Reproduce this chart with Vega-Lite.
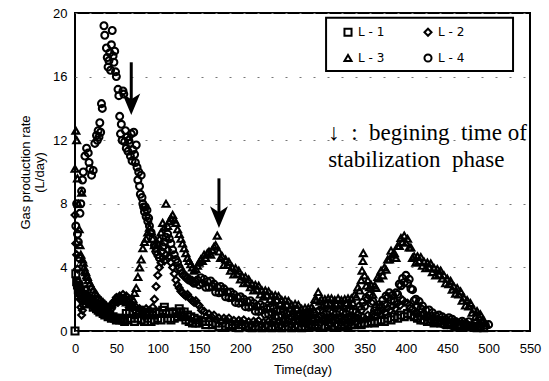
{
  "$schema": "https://vega.github.io/schema/vega-lite/v6.json",
  "autosize": "none",
  "width": 455,
  "height": 318,
  "padding": {"left": 75, "top": 13, "right": 19, "bottom": 50},
  "config": {
    "view": {"stroke": "black", "strokeWidth": 2},
    "font": "Liberation Sans",
    "axis": {"labelFont": "Liberation Sans", "labelFontSize": 13, "labelColor": "black", "titleFont": "Liberation Sans", "titleFontSize": 13, "titleFontWeight": "normal", "titleColor": "black", "domain": false, "ticks": false, "labelFlush": false, "labelOverlap": false}
  },
  "layer": [
    {
      "data": {"values": [{"x1": 303.5, "x2": 529.5, "y1": 16.35, "y2": 19.7}]},
      "mark": {"type": "rect", "fill": "white", "stroke": "black", "strokeWidth": 2},
      "encoding": {"x": {"field": "x1", "type": "quantitative"}, "x2": {"field": "x2"}, "y": {"field": "y1", "type": "quantitative"}, "y2": {"field": "y2"}}
    },
    {
      "data": {"values": [
        {"s":"L-1","t":0,"v":0},{"s":"L-1","t":1,"v":3.6},{"s":"L-1","t":2,"v":3.1},{"s":"L-1","t":3,"v":2.9},{"s":"L-1","t":4,"v":2.6},{"s":"L-1","t":5,"v":2.8},{"s":"L-1","t":6,"v":2.4},{"s":"L-1","t":7,"v":2.6},{"s":"L-1","t":8,"v":2.2},{"s":"L-1","t":9,"v":2.3},{"s":"L-1","t":10,"v":2.0},{"s":"L-1","t":12,"v":2.2},{"s":"L-1","t":14,"v":1.9},{"s":"L-1","t":16,"v":2.0},{"s":"L-1","t":18,"v":1.7},{"s":"L-1","t":20,"v":1.8},{"s":"L-1","t":22,"v":1.5},{"s":"L-1","t":24,"v":1.6},{"s":"L-1","t":26,"v":1.4},{"s":"L-1","t":28,"v":1.3},{"s":"L-1","t":30,"v":1.2},{"s":"L-1","t":32,"v":1.3},{"s":"L-1","t":34,"v":1.1},{"s":"L-1","t":36,"v":1.0},{"s":"L-1","t":38,"v":1.1},{"s":"L-1","t":40,"v":0.9},{"s":"L-1","t":42,"v":1.0},{"s":"L-1","t":44,"v":0.8},{"s":"L-1","t":46,"v":0.9},{"s":"L-1","t":48,"v":0.8},{"s":"L-1","t":50,"v":0.7},{"s":"L-1","t":52,"v":0.8},{"s":"L-1","t":54,"v":0.7},{"s":"L-1","t":56,"v":0.8},{"s":"L-1","t":58,"v":0.7},{"s":"L-1","t":60,"v":0.6},{"s":"L-1","t":62,"v":1.1},{"s":"L-1","t":64,"v":0.7},{"s":"L-1","t":66,"v":1.2},{"s":"L-1","t":68,"v":0.8},{"s":"L-1","t":70,"v":1.1},{"s":"L-1","t":72,"v":0.6},{"s":"L-1","t":74,"v":1.2},{"s":"L-1","t":76,"v":0.8},{"s":"L-1","t":78,"v":1.3},{"s":"L-1","t":80,"v":0.7},{"s":"L-1","t":82,"v":1.1},{"s":"L-1","t":84,"v":0.6},{"s":"L-1","t":86,"v":1.2},{"s":"L-1","t":88,"v":0.8},{"s":"L-1","t":90,"v":1.1},{"s":"L-1","t":92,"v":0.6},{"s":"L-1","t":94,"v":1.0},{"s":"L-1","t":96,"v":0.7},{"s":"L-1","t":98,"v":1.2},{"s":"L-1","t":100,"v":0.8},{"s":"L-1","t":102,"v":1.1},{"s":"L-1","t":104,"v":0.7},{"s":"L-1","t":106,"v":1.3},{"s":"L-1","t":108,"v":1.5},{"s":"L-1","t":110,"v":1.1},{"s":"L-1","t":112,"v":0.8},{"s":"L-1","t":114,"v":1.2},{"s":"L-1","t":116,"v":0.7},{"s":"L-1","t":118,"v":1.1},{"s":"L-1","t":120,"v":0.8},{"s":"L-1","t":122,"v":1.2},{"s":"L-1","t":124,"v":0.9},{"s":"L-1","t":126,"v":1.4},{"s":"L-1","t":128,"v":1.2},{"s":"L-1","t":130,"v":0.9},{"s":"L-1","t":132,"v":1.2},{"s":"L-1","t":134,"v":0.7},{"s":"L-1","t":136,"v":1.0},{"s":"L-1","t":138,"v":0.6},{"s":"L-1","t":140,"v":0.9},{"s":"L-1","t":142,"v":0.5},{"s":"L-1","t":144,"v":0.8},{"s":"L-1","t":146,"v":0.5},{"s":"L-1","t":148,"v":0.7},{"s":"L-1","t":150,"v":0.5},{"s":"L-1","t":154,"v":0.6},{"s":"L-1","t":158,"v":0.4},{"s":"L-1","t":162,"v":0.6},{"s":"L-1","t":166,"v":0.4},{"s":"L-1","t":170,"v":0.5},{"s":"L-1","t":174,"v":0.3},{"s":"L-1","t":178,"v":0.5},{"s":"L-1","t":182,"v":0.3},{"s":"L-1","t":186,"v":0.4},{"s":"L-1","t":190,"v":0.3},{"s":"L-1","t":194,"v":0.4},{"s":"L-1","t":198,"v":0.2},{"s":"L-1","t":202,"v":0.4},{"s":"L-1","t":206,"v":0.3},{"s":"L-1","t":210,"v":0.3},{"s":"L-1","t":214,"v":0.2},{"s":"L-1","t":218,"v":0.3},{"s":"L-1","t":222,"v":0.3},{"s":"L-1","t":226,"v":0.2},{"s":"L-1","t":230,"v":0.3},{"s":"L-1","t":234,"v":0.3},{"s":"L-1","t":238,"v":0.2},{"s":"L-1","t":242,"v":0.3},{"s":"L-1","t":246,"v":0.3},{"s":"L-1","t":250,"v":0.2},{"s":"L-1","t":254,"v":0.3},{"s":"L-1","t":258,"v":0.3},{"s":"L-1","t":262,"v":0.2},{"s":"L-1","t":266,"v":0.3},{"s":"L-1","t":270,"v":0.3},{"s":"L-1","t":274,"v":0.2},{"s":"L-1","t":278,"v":0.3},{"s":"L-1","t":282,"v":0.3},{"s":"L-1","t":286,"v":0.4},{"s":"L-1","t":290,"v":0.3},{"s":"L-1","t":294,"v":0.4},{"s":"L-1","t":298,"v":0.3},{"s":"L-1","t":302,"v":0.3},{"s":"L-1","t":306,"v":0.4},{"s":"L-1","t":310,"v":0.3},{"s":"L-1","t":314,"v":0.3},{"s":"L-1","t":318,"v":0.4},{"s":"L-1","t":322,"v":0.3},{"s":"L-1","t":326,"v":0.4},{"s":"L-1","t":330,"v":0.3},{"s":"L-1","t":334,"v":0.4},{"s":"L-1","t":338,"v":0.4},{"s":"L-1","t":342,"v":0.5},{"s":"L-1","t":346,"v":0.4},{"s":"L-1","t":350,"v":0.5},{"s":"L-1","t":354,"v":0.5},{"s":"L-1","t":358,"v":0.6},{"s":"L-1","t":362,"v":0.5},{"s":"L-1","t":366,"v":0.6},{"s":"L-1","t":370,"v":0.7},{"s":"L-1","t":374,"v":0.6},{"s":"L-1","t":378,"v":0.8},{"s":"L-1","t":382,"v":0.7},{"s":"L-1","t":386,"v":0.9},{"s":"L-1","t":390,"v":0.8},{"s":"L-1","t":394,"v":1.0},{"s":"L-1","t":398,"v":0.9},{"s":"L-1","t":402,"v":1.1},{"s":"L-1","t":406,"v":1.0},{"s":"L-1","t":410,"v":0.9},{"s":"L-1","t":414,"v":0.8},{"s":"L-1","t":418,"v":0.7},{"s":"L-1","t":422,"v":0.7},{"s":"L-1","t":426,"v":0.6},{"s":"L-1","t":430,"v":0.6},{"s":"L-1","t":434,"v":0.5},{"s":"L-1","t":438,"v":0.6},{"s":"L-1","t":442,"v":0.5},{"s":"L-1","t":446,"v":0.5},{"s":"L-1","t":450,"v":0.4},{"s":"L-1","t":454,"v":0.5},{"s":"L-1","t":458,"v":0.4},{"s":"L-1","t":462,"v":0.4},{"s":"L-1","t":466,"v":0.3},{"s":"L-1","t":470,"v":0.4},{"s":"L-1","t":474,"v":0.3},{"s":"L-1","t":478,"v":0.3},{"s":"L-1","t":482,"v":0.3},{"s":"L-1","t":486,"v":0.2},{"s":"L-1","t":490,"v":0.3},{"s":"L-1","t":494,"v":0.2},
        {"s":"L-2","t":0,"v":7.3},{"s":"L-2","t":1,"v":5.5},{"s":"L-2","t":2,"v":4.8},{"s":"L-2","t":3,"v":3.9},{"s":"L-2","t":4,"v":3.1},{"s":"L-2","t":5,"v":2.5},{"s":"L-2","t":6,"v":2.0},{"s":"L-2","t":7,"v":1.5},{"s":"L-2","t":8,"v":1.0},{"s":"L-2","t":9,"v":1.3},{"s":"L-2","t":10,"v":1.6},{"s":"L-2","t":11,"v":2.0},{"s":"L-2","t":12,"v":2.3},{"s":"L-2","t":13,"v":2.6},{"s":"L-2","t":14,"v":2.3},{"s":"L-2","t":15,"v":2.0},{"s":"L-2","t":16,"v":2.2},{"s":"L-2","t":17,"v":1.8},{"s":"L-2","t":18,"v":2.0},{"s":"L-2","t":19,"v":1.7},{"s":"L-2","t":20,"v":1.9},{"s":"L-2","t":22,"v":1.6},{"s":"L-2","t":24,"v":1.8},{"s":"L-2","t":26,"v":1.5},{"s":"L-2","t":28,"v":1.4},{"s":"L-2","t":30,"v":1.6},{"s":"L-2","t":32,"v":1.3},{"s":"L-2","t":34,"v":1.2},{"s":"L-2","t":36,"v":1.4},{"s":"L-2","t":38,"v":1.1},{"s":"L-2","t":40,"v":1.3},{"s":"L-2","t":42,"v":1.5},{"s":"L-2","t":44,"v":1.4},{"s":"L-2","t":46,"v":1.7},{"s":"L-2","t":48,"v":1.9},{"s":"L-2","t":50,"v":2.1},{"s":"L-2","t":52,"v":1.8},{"s":"L-2","t":54,"v":2.2},{"s":"L-2","t":56,"v":2.0},{"s":"L-2","t":58,"v":2.3},{"s":"L-2","t":60,"v":2.1},{"s":"L-2","t":62,"v":2.2},{"s":"L-2","t":64,"v":1.9},{"s":"L-2","t":66,"v":2.0},{"s":"L-2","t":68,"v":1.7},{"s":"L-2","t":70,"v":1.5},{"s":"L-2","t":72,"v":1.3},{"s":"L-2","t":74,"v":1.5},{"s":"L-2","t":76,"v":1.1},{"s":"L-2","t":78,"v":1.4},{"s":"L-2","t":80,"v":1.0},{"s":"L-2","t":82,"v":1.3},{"s":"L-2","t":84,"v":0.9},{"s":"L-2","t":86,"v":1.4},{"s":"L-2","t":88,"v":1.0},{"s":"L-2","t":90,"v":1.3},{"s":"L-2","t":92,"v":1.2},{"s":"L-2","t":94,"v":1.5},{"s":"L-2","t":96,"v":2.0},{"s":"L-2","t":98,"v":2.8},{"s":"L-2","t":100,"v":3.5},{"s":"L-2","t":102,"v":4.0},{"s":"L-2","t":104,"v":4.3},{"s":"L-2","t":106,"v":4.6},{"s":"L-2","t":108,"v":4.4},{"s":"L-2","t":110,"v":4.8},{"s":"L-2","t":112,"v":5.1},{"s":"L-2","t":114,"v":4.7},{"s":"L-2","t":116,"v":4.3},{"s":"L-2","t":118,"v":4.0},{"s":"L-2","t":120,"v":3.6},{"s":"L-2","t":122,"v":3.2},{"s":"L-2","t":124,"v":2.9},{"s":"L-2","t":126,"v":2.7},{"s":"L-2","t":128,"v":2.5},{"s":"L-2","t":130,"v":2.4},{"s":"L-2","t":132,"v":2.3},{"s":"L-2","t":134,"v":2.2},{"s":"L-2","t":136,"v":2.3},{"s":"L-2","t":138,"v":2.1},{"s":"L-2","t":140,"v":2.0},{"s":"L-2","t":142,"v":1.9},{"s":"L-2","t":144,"v":1.8},{"s":"L-2","t":146,"v":1.9},{"s":"L-2","t":148,"v":1.7},
        {"s":"L-2","t":150,"v":1.6},{"s":"L-2","t":153,"v":1.3},{"s":"L-2","t":156,"v":1.25},{"s":"L-2","t":159,"v":0.9},{"s":"L-2","t":162,"v":1.07},{"s":"L-2","t":165,"v":0.9},{"s":"L-2","t":168,"v":1.0},{"s":"L-2","t":171,"v":0.7},{"s":"L-2","t":174,"v":0.82},{"s":"L-2","t":177,"v":0.59},{"s":"L-2","t":180,"v":0.8},{"s":"L-2","t":183,"v":0.68},{"s":"L-2","t":186,"v":0.81},{"s":"L-2","t":189,"v":0.54},{"s":"L-2","t":192,"v":0.67},{"s":"L-2","t":195,"v":0.45},{"s":"L-2","t":198,"v":0.67},{"s":"L-2","t":201,"v":0.55},{"s":"L-2","t":204,"v":0.7},{"s":"L-2","t":207,"v":0.44},{"s":"L-2","t":210,"v":0.58},{"s":"L-2","t":213,"v":0.37},{"s":"L-2","t":216,"v":0.61},{"s":"L-2","t":219,"v":0.5},{"s":"L-2","t":222,"v":0.65},{"s":"L-2","t":225,"v":0.4},{"s":"L-2","t":228,"v":0.55},{"s":"L-2","t":231,"v":0.35},{"s":"L-2","t":234,"v":0.6},{"s":"L-2","t":237,"v":0.5},{"s":"L-2","t":240,"v":0.65},{"s":"L-2","t":243,"v":0.4},{"s":"L-2","t":246,"v":0.55},{"s":"L-2","t":249,"v":0.35},{"s":"L-2","t":252,"v":0.6},{"s":"L-2","t":255,"v":0.5},{"s":"L-2","t":258,"v":0.65},{"s":"L-2","t":261,"v":0.4},{"s":"L-2","t":264,"v":0.55},{"s":"L-2","t":267,"v":0.35},{"s":"L-2","t":270,"v":0.6},{"s":"L-2","t":273,"v":0.5},{"s":"L-2","t":276,"v":0.65},{"s":"L-2","t":279,"v":0.4},{"s":"L-2","t":282,"v":0.55},{"s":"L-2","t":285,"v":0.4},{"s":"L-2","t":288,"v":0.65},{"s":"L-2","t":291,"v":0.55},{"s":"L-2","t":294,"v":0.75},{"s":"L-2","t":297,"v":0.5},{"s":"L-2","t":300,"v":0.7},{"s":"L-2","t":303,"v":0.55},{"s":"L-2","t":306,"v":0.7},{"s":"L-2","t":309,"v":0.45},{"s":"L-2","t":312,"v":0.6},{"s":"L-2","t":315,"v":0.4},{"s":"L-2","t":318,"v":0.65},{"s":"L-2","t":321,"v":0.5},{"s":"L-2","t":324,"v":0.65},{"s":"L-2","t":327,"v":0.45},{"s":"L-2","t":330,"v":0.6},{"s":"L-2","t":333,"v":0.5},{"s":"L-2","t":336,"v":0.7},{"s":"L-2","t":339,"v":0.55},{"s":"L-2","t":342,"v":0.8},{"s":"L-2","t":345,"v":0.65},{"s":"L-2","t":348,"v":0.9},{"s":"L-2","t":351,"v":0.75},{"s":"L-2","t":354,"v":1.0},{"s":"L-2","t":357,"v":0.8},{"s":"L-2","t":360,"v":1.05},{"s":"L-2","t":363,"v":0.95},{"s":"L-2","t":366,"v":1.2},{"s":"L-2","t":369,"v":1.0},{"s":"L-2","t":372,"v":1.3},{"s":"L-2","t":375,"v":1.15},{"s":"L-2","t":378,"v":1.45},{"s":"L-2","t":381,"v":1.3},{"s":"L-2","t":384,"v":1.55},{"s":"L-2","t":387,"v":1.4},{"s":"L-2","t":390,"v":1.75},{"s":"L-2","t":393,"v":1.6},{"s":"L-2","t":396,"v":1.95},{"s":"L-2","t":399,"v":1.8},{"s":"L-2","t":402,"v":1.75},{"s":"L-2","t":405,"v":1.45},{"s":"L-2","t":408,"v":1.4},{"s":"L-2","t":411,"v":1.1},{"s":"L-2","t":414,"v":1.15},{"s":"L-2","t":417,"v":0.9},{"s":"L-2","t":420,"v":1.0},{"s":"L-2","t":423,"v":0.85},{"s":"L-2","t":426,"v":0.9},{"s":"L-2","t":429,"v":0.7},{"s":"L-2","t":432,"v":0.8},{"s":"L-2","t":435,"v":0.65},{"s":"L-2","t":438,"v":0.75},{"s":"L-2","t":441,"v":0.55},{"s":"L-2","t":444,"v":0.7},{"s":"L-2","t":447,"v":0.55},{"s":"L-2","t":450,"v":0.6},{"s":"L-2","t":453,"v":0.45},{"s":"L-2","t":456,"v":0.6},{"s":"L-2","t":459,"v":0.45},{"s":"L-2","t":462,"v":0.5},{"s":"L-2","t":465,"v":0.35},{"s":"L-2","t":468,"v":0.5},{"s":"L-2","t":471,"v":0.35},{"s":"L-2","t":474,"v":0.45},{"s":"L-2","t":477,"v":0.3},{"s":"L-2","t":480,"v":0.4},{"s":"L-2","t":483,"v":0.3},{"s":"L-2","t":486,"v":0.35},{"s":"L-2","t":489,"v":0.25},
        {"s":"L-3","t":0,"v":10.2},{"s":"L-3","t":1,"v":12.6},{"s":"L-3","t":2,"v":12.0},{"s":"L-3","t":3,"v":9.6},{"s":"L-3","t":4,"v":8.0},{"s":"L-3","t":5,"v":6.4},{"s":"L-3","t":6,"v":5.4},{"s":"L-3","t":7,"v":4.8},{"s":"L-3","t":8,"v":8.7},{"s":"L-3","t":9,"v":4.5},{"s":"L-3","t":10,"v":4.3},{"s":"L-3","t":11,"v":4.0},{"s":"L-3","t":12,"v":3.8},{"s":"L-3","t":13,"v":3.7},{"s":"L-3","t":14,"v":3.5},{"s":"L-3","t":15,"v":3.4},{"s":"L-3","t":16,"v":3.2},{"s":"L-3","t":18,"v":3.0},{"s":"L-3","t":20,"v":2.8},{"s":"L-3","t":22,"v":2.6},{"s":"L-3","t":24,"v":2.4},{"s":"L-3","t":26,"v":2.3},{"s":"L-3","t":28,"v":2.1},{"s":"L-3","t":30,"v":2.0},{"s":"L-3","t":32,"v":1.9},{"s":"L-3","t":34,"v":1.8},{"s":"L-3","t":36,"v":1.7},{"s":"L-3","t":38,"v":1.6},{"s":"L-3","t":40,"v":1.5},{"s":"L-3","t":42,"v":1.6},{"s":"L-3","t":44,"v":1.7},{"s":"L-3","t":46,"v":1.8},{"s":"L-3","t":48,"v":2.0},{"s":"L-3","t":50,"v":2.1},{"s":"L-3","t":52,"v":1.9},{"s":"L-3","t":54,"v":2.0},{"s":"L-3","t":56,"v":2.1},{"s":"L-3","t":58,"v":1.9},{"s":"L-3","t":60,"v":2.0},{"s":"L-3","t":62,"v":1.8},{"s":"L-3","t":64,"v":1.9},{"s":"L-3","t":66,"v":1.7},{"s":"L-3","t":68,"v":1.8},{"s":"L-3","t":70,"v":2.0},{"s":"L-3","t":72,"v":2.4},{"s":"L-3","t":74,"v":2.7},{"s":"L-3","t":76,"v":3.4},{"s":"L-3","t":78,"v":4.0},{"s":"L-3","t":80,"v":4.5},{"s":"L-3","t":82,"v":5.2},{"s":"L-3","t":84,"v":5.6},{"s":"L-3","t":86,"v":5.8},{"s":"L-3","t":88,"v":6.2},{"s":"L-3","t":90,"v":6.5},{"s":"L-3","t":92,"v":6.3},{"s":"L-3","t":94,"v":5.8},{"s":"L-3","t":96,"v":5.4},{"s":"L-3","t":98,"v":5.2},{"s":"L-3","t":100,"v":5.5},{"s":"L-3","t":102,"v":5.8},{"s":"L-3","t":104,"v":6.2},{"s":"L-3","t":106,"v":6.8},{"s":"L-3","t":108,"v":6.5},{"s":"L-3","t":110,"v":8.0},{"s":"L-3","t":112,"v":6.6},{"s":"L-3","t":114,"v":6.9},{"s":"L-3","t":116,"v":7.1},{"s":"L-3","t":118,"v":7.3},{"s":"L-3","t":120,"v":7.0},{"s":"L-3","t":122,"v":6.8},{"s":"L-3","t":124,"v":6.4},{"s":"L-3","t":126,"v":6.1},{"s":"L-3","t":128,"v":5.8},{"s":"L-3","t":130,"v":5.5},{"s":"L-3","t":132,"v":5.2},{"s":"L-3","t":134,"v":4.9},{"s":"L-3","t":136,"v":4.6},{"s":"L-3","t":138,"v":4.4},{"s":"L-3","t":140,"v":4.2},{"s":"L-3","t":142,"v":4.0},{"s":"L-3","t":144,"v":3.8},{"s":"L-3","t":146,"v":3.9},{"s":"L-3","t":148,"v":4.1},{"s":"L-3","t":150,"v":4.3},{"s":"L-3","t":152,"v":4.5},{"s":"L-3","t":154,"v":4.4},{"s":"L-3","t":156,"v":4.8},{"s":"L-3","t":158,"v":4.6},{"s":"L-3","t":160,"v":4.9},{"s":"L-3","t":162,"v":5.0},{"s":"L-3","t":164,"v":4.8},{"s":"L-3","t":166,"v":5.1},{"s":"L-3","t":168,"v":5.3},{"s":"L-3","t":170,"v":5.4},{"s":"L-3","t":172,"v":6.0},
        {"s":"L-3","t":174,"v":5.0},{"s":"L-3","t":176,"v":4.6},{"s":"L-3","t":178,"v":4.7},{"s":"L-3","t":180,"v":4.15},{"s":"L-3","t":182,"v":4.5},{"s":"L-3","t":184,"v":4.15},{"s":"L-3","t":186,"v":4.35},{"s":"L-3","t":188,"v":3.8},{"s":"L-3","t":190,"v":4.0},{"s":"L-3","t":192,"v":3.55},{"s":"L-3","t":194,"v":3.95},{"s":"L-3","t":196,"v":3.6},{"s":"L-3","t":198,"v":3.8},{"s":"L-3","t":200,"v":3.25},{"s":"L-3","t":202,"v":3.45},{"s":"L-3","t":204,"v":3.0},{"s":"L-3","t":206,"v":3.4},{"s":"L-3","t":208,"v":3.05},{"s":"L-3","t":210,"v":3.25},{"s":"L-3","t":212,"v":2.75},{"s":"L-3","t":214,"v":2.95},{"s":"L-3","t":216,"v":2.55},{"s":"L-3","t":218,"v":2.9},{"s":"L-3","t":220,"v":2.6},{"s":"L-3","t":222,"v":2.85},{"s":"L-3","t":224,"v":2.3},{"s":"L-3","t":226,"v":2.55},{"s":"L-3","t":228,"v":2.15},{"s":"L-3","t":230,"v":2.55},{"s":"L-3","t":232,"v":2.25},{"s":"L-3","t":234,"v":2.5},{"s":"L-3","t":236,"v":2.0},{"s":"L-3","t":238,"v":2.25},{"s":"L-3","t":240,"v":1.85},{"s":"L-3","t":242,"v":2.25},{"s":"L-3","t":244,"v":1.95},{"s":"L-3","t":246,"v":2.2},{"s":"L-3","t":248,"v":1.7},{"s":"L-3","t":250,"v":1.95},{"s":"L-3","t":252,"v":1.55},{"s":"L-3","t":254,"v":1.95},{"s":"L-3","t":256,"v":1.65},{"s":"L-3","t":258,"v":1.9},{"s":"L-3","t":260,"v":1.4},{"s":"L-3","t":262,"v":1.65},{"s":"L-3","t":264,"v":1.25},{"s":"L-3","t":266,"v":1.7},{"s":"L-3","t":268,"v":1.4},{"s":"L-3","t":270,"v":1.65},{"s":"L-3","t":272,"v":1.15},{"s":"L-3","t":274,"v":1.4},{"s":"L-3","t":276,"v":1.05},{"s":"L-3","t":278,"v":1.45},{"s":"L-3","t":280,"v":1.15},{"s":"L-3","t":282,"v":1.45},{"s":"L-3","t":284,"v":1.05},{"s":"L-3","t":286,"v":1.5},{"s":"L-3","t":288,"v":1.35},{"s":"L-3","t":290,"v":2.0},{"s":"L-3","t":292,"v":1.95},{"s":"L-3","t":294,"v":2.45},{"s":"L-3","t":296,"v":1.85},{"s":"L-3","t":298,"v":2.0},{"s":"L-3","t":300,"v":1.6},{"s":"L-3","t":302,"v":2.0},{"s":"L-3","t":304,"v":1.7},{"s":"L-3","t":306,"v":2.05},{"s":"L-3","t":308,"v":1.7},{"s":"L-3","t":310,"v":2.05},{"s":"L-3","t":312,"v":1.6},{"s":"L-3","t":314,"v":1.95},{"s":"L-3","t":316,"v":1.7},{"s":"L-3","t":318,"v":2.05},{"s":"L-3","t":320,"v":1.65},{"s":"L-3","t":322,"v":1.95},{"s":"L-3","t":324,"v":1.6},{"s":"L-3","t":326,"v":2.0},{"s":"L-3","t":328,"v":1.75},{"s":"L-3","t":330,"v":2.05},{"s":"L-3","t":332,"v":1.65},{"s":"L-3","t":334,"v":2.05},{"s":"L-3","t":336,"v":1.75},{"s":"L-3","t":338,"v":2.3},{"s":"L-3","t":340,"v":2.15},{"s":"L-3","t":342,"v":2.75},{"s":"L-3","t":344,"v":2.55},{"s":"L-3","t":346,"v":3.2},{"s":"L-3","t":347,"v":3.8},{"s":"L-3","t":348,"v":4.4},{"s":"L-3","t":348.5,"v":4.9},{"s":"L-3","t":350,"v":3.5},{"s":"L-3","t":352,"v":2.85},{"s":"L-3","t":354,"v":3.2},{"s":"L-3","t":356,"v":2.75},{"s":"L-3","t":358,"v":2.9},{"s":"L-3","t":360,"v":2.3},{"s":"L-3","t":362,"v":2.85},{"s":"L-3","t":364,"v":2.7},{"s":"L-3","t":366,"v":3.4},{"s":"L-3","t":368,"v":3.3},{"s":"L-3","t":370,"v":3.8},{"s":"L-3","t":372,"v":3.5},{"s":"L-3","t":374,"v":4.0},{"s":"L-3","t":376,"v":3.85},{"s":"L-3","t":378,"v":4.5},{"s":"L-3","t":380,"v":4.5},{"s":"L-3","t":382,"v":5.05},{"s":"L-3","t":384,"v":4.8},{"s":"L-3","t":386,"v":4.9},{"s":"L-3","t":388,"v":4.6},{"s":"L-3","t":390,"v":5.35},{"s":"L-3","t":392,"v":5.35},{"s":"L-3","t":394,"v":5.85},{"s":"L-3","t":396,"v":5.6},{"s":"L-3","t":398,"v":6.0},{"s":"L-3","t":400,"v":5.55},{"s":"L-3","t":402,"v":5.8},{"s":"L-3","t":404,"v":5.25},{"s":"L-3","t":406,"v":5.25},{"s":"L-3","t":408,"v":4.6},{"s":"L-3","t":410,"v":4.7},{"s":"L-3","t":412,"v":4.3},{"s":"L-3","t":414,"v":4.7},{"s":"L-3","t":416,"v":4.4},{"s":"L-3","t":418,"v":4.65},{"s":"L-3","t":420,"v":4.1},{"s":"L-3","t":422,"v":4.35},{"s":"L-3","t":424,"v":3.95},{"s":"L-3","t":426,"v":4.3},{"s":"L-3","t":428,"v":4.0},{"s":"L-3","t":430,"v":4.25},{"s":"L-3","t":432,"v":3.7},{"s":"L-3","t":434,"v":3.95},{"s":"L-3","t":436,"v":3.5},{"s":"L-3","t":438,"v":3.9},{"s":"L-3","t":440,"v":3.55},{"s":"L-3","t":442,"v":3.8},{"s":"L-3","t":444,"v":3.3},{"s":"L-3","t":446,"v":3.5},{"s":"L-3","t":448,"v":3.0},{"s":"L-3","t":450,"v":3.3},{"s":"L-3","t":452,"v":2.95},{"s":"L-3","t":454,"v":3.15},{"s":"L-3","t":456,"v":2.6},{"s":"L-3","t":458,"v":2.8},{"s":"L-3","t":460,"v":2.35},{"s":"L-3","t":462,"v":2.7},{"s":"L-3","t":464,"v":2.3},{"s":"L-3","t":466,"v":2.5},{"s":"L-3","t":468,"v":1.9},{"s":"L-3","t":470,"v":2.1},{"s":"L-3","t":472,"v":1.6},{"s":"L-3","t":474,"v":1.95},{"s":"L-3","t":476,"v":1.55},{"s":"L-3","t":478,"v":1.75},{"s":"L-3","t":480,"v":1.15},{"s":"L-3","t":482,"v":1.35},{"s":"L-3","t":484,"v":0.9},{"s":"L-3","t":486,"v":1.25},{"s":"L-3","t":488,"v":0.9},{"s":"L-3","t":490,"v":1.05},{"s":"L-3","t":492,"v":0.6},{"s":"L-3","t":494,"v":0.65},{"s":"L-3","t":496,"v":0.5},
        {"s":"L-4","t":1,"v":6.6},{"s":"L-4","t":2,"v":8.0},{"s":"L-4","t":3,"v":6.1},{"s":"L-4","t":4,"v":5.6},{"s":"L-4","t":5,"v":4.6},{"s":"L-4","t":6,"v":7.4},{"s":"L-4","t":7,"v":8.0},{"s":"L-4","t":8,"v":8.8},{"s":"L-4","t":9,"v":9.5},{"s":"L-4","t":10,"v":10.0},{"s":"L-4","t":12,"v":11.0},{"s":"L-4","t":14,"v":11.5},{"s":"L-4","t":16,"v":11.2},{"s":"L-4","t":17,"v":10.6},{"s":"L-4","t":18,"v":10.2},{"s":"L-4","t":20,"v":9.8},{"s":"L-4","t":22,"v":10.1},{"s":"L-4","t":24,"v":11.8},{"s":"L-4","t":26,"v":12.3},{"s":"L-4","t":27,"v":12.0},{"s":"L-4","t":28,"v":12.6},{"s":"L-4","t":29,"v":12.2},{"s":"L-4","t":30,"v":13.1},{"s":"L-4","t":31,"v":12.5},{"s":"L-4","t":32,"v":14.3},{"s":"L-4","t":33,"v":14.0},{"s":"L-4","t":35,"v":19.2},{"s":"L-4","t":36,"v":18.6},{"s":"L-4","t":38,"v":17.8},{"s":"L-4","t":39,"v":17.2},{"s":"L-4","t":40,"v":16.6},{"s":"L-4","t":41,"v":17.0},{"s":"L-4","t":42,"v":17.5},{"s":"L-4","t":43,"v":16.4},{"s":"L-4","t":44,"v":18.0},{"s":"L-4","t":45,"v":18.9},{"s":"L-4","t":46,"v":17.3},{"s":"L-4","t":47,"v":16.9},{"s":"L-4","t":48,"v":17.6},{"s":"L-4","t":49,"v":16.3},{"s":"L-4","t":50,"v":16.0},{"s":"L-4","t":52,"v":15.2},{"s":"L-4","t":53,"v":14.8},{"s":"L-4","t":54,"v":13.5},{"s":"L-4","t":55,"v":12.4},{"s":"L-4","t":56,"v":13.0},{"s":"L-4","t":57,"v":12.0},{"s":"L-4","t":58,"v":15.1},{"s":"L-4","t":59,"v":14.9},{"s":"L-4","t":60,"v":11.9},{"s":"L-4","t":61,"v":12.6},{"s":"L-4","t":62,"v":11.5},{"s":"L-4","t":63,"v":12.2},{"s":"L-4","t":64,"v":11.3},{"s":"L-4","t":65,"v":12.0},{"s":"L-4","t":66,"v":11.8},{"s":"L-4","t":67,"v":11.0},{"s":"L-4","t":68,"v":12.4},{"s":"L-4","t":69,"v":10.7},{"s":"L-4","t":70,"v":11.4},{"s":"L-4","t":71,"v":12.5},{"s":"L-4","t":72,"v":11.1},{"s":"L-4","t":73,"v":10.6},{"s":"L-4","t":74,"v":11.7},{"s":"L-4","t":75,"v":10.3},{"s":"L-4","t":76,"v":9.5},{"s":"L-4","t":77,"v":10.0},{"s":"L-4","t":78,"v":9.1},{"s":"L-4","t":79,"v":8.6},{"s":"L-4","t":80,"v":9.8},{"s":"L-4","t":81,"v":8.4},{"s":"L-4","t":82,"v":8.0},{"s":"L-4","t":83,"v":7.8},{"s":"L-4","t":84,"v":7.5},{"s":"L-4","t":85,"v":7.8},{"s":"L-4","t":86,"v":7.2},{"s":"L-4","t":87,"v":7.6},{"s":"L-4","t":88,"v":6.9},{"s":"L-4","t":89,"v":7.1},{"s":"L-4","t":90,"v":6.6},{"s":"L-4","t":92,"v":6.2},{"s":"L-4","t":94,"v":5.8},{"s":"L-4","t":96,"v":5.4},{"s":"L-4","t":98,"v":5.0},{"s":"L-4","t":100,"v":4.8},{"s":"L-4","t":102,"v":4.6},{"s":"L-4","t":104,"v":5.0},{"s":"L-4","t":106,"v":5.3},{"s":"L-4","t":108,"v":5.6},{"s":"L-4","t":110,"v":5.9},{"s":"L-4","t":112,"v":6.1},{"s":"L-4","t":114,"v":5.8},{"s":"L-4","t":116,"v":5.5},{"s":"L-4","t":118,"v":5.1},{"s":"L-4","t":120,"v":4.8},{"s":"L-4","t":122,"v":4.5},{"s":"L-4","t":124,"v":4.3},{"s":"L-4","t":126,"v":4.0},{"s":"L-4","t":128,"v":3.8},{"s":"L-4","t":130,"v":3.6},{"s":"L-4","t":132,"v":3.5},{"s":"L-4","t":134,"v":3.4},{"s":"L-4","t":136,"v":3.3},{"s":"L-4","t":138,"v":3.2},{"s":"L-4","t":140,"v":3.2},{"s":"L-4","t":142,"v":3.1},{"s":"L-4","t":144,"v":3.0},{"s":"L-4","t":146,"v":3.1},{"s":"L-4","t":148,"v":3.2},
        {"s":"L-4","t":150,"v":2.9},{"s":"L-4","t":152,"v":3.35},{"s":"L-4","t":154,"v":3.0},{"s":"L-4","t":156,"v":3.25},{"s":"L-4","t":158,"v":2.75},{"s":"L-4","t":160,"v":3.1},{"s":"L-4","t":162,"v":2.75},{"s":"L-4","t":164,"v":3.15},{"s":"L-4","t":166,"v":2.8},{"s":"L-4","t":168,"v":2.95},{"s":"L-4","t":170,"v":2.45},{"s":"L-4","t":172,"v":2.75},{"s":"L-4","t":174,"v":2.4},{"s":"L-4","t":176,"v":2.8},{"s":"L-4","t":178,"v":2.45},{"s":"L-4","t":180,"v":2.65},{"s":"L-4","t":182,"v":2.15},{"s":"L-4","t":184,"v":2.45},{"s":"L-4","t":186,"v":2.1},{"s":"L-4","t":188,"v":2.45},{"s":"L-4","t":190,"v":2.1},{"s":"L-4","t":192,"v":2.3},{"s":"L-4","t":194,"v":1.8},{"s":"L-4","t":196,"v":2.1},{"s":"L-4","t":198,"v":1.75},{"s":"L-4","t":200,"v":2.15},{"s":"L-4","t":202,"v":1.8},{"s":"L-4","t":204,"v":2.0},{"s":"L-4","t":206,"v":1.53},{"s":"L-4","t":208,"v":1.84},{"s":"L-4","t":210,"v":1.5},{"s":"L-4","t":212,"v":1.9},{"s":"L-4","t":214,"v":1.55},{"s":"L-4","t":216,"v":1.75},{"s":"L-4","t":218,"v":1.25},{"s":"L-4","t":220,"v":1.55},{"s":"L-4","t":222,"v":1.22},{"s":"L-4","t":224,"v":1.65},{"s":"L-4","t":226,"v":1.31},{"s":"L-4","t":228,"v":1.53},{"s":"L-4","t":230,"v":1.05},{"s":"L-4","t":232,"v":1.38},{"s":"L-4","t":234,"v":1.06},{"s":"L-4","t":236,"v":1.49},{"s":"L-4","t":238,"v":1.17},{"s":"L-4","t":240,"v":1.4},{"s":"L-4","t":242,"v":0.92},{"s":"L-4","t":244,"v":1.24},{"s":"L-4","t":246,"v":0.91},{"s":"L-4","t":248,"v":1.33},{"s":"L-4","t":250,"v":1.0},{"s":"L-4","t":252,"v":1.23},{"s":"L-4","t":254,"v":0.76},{"s":"L-4","t":256,"v":1.09},{"s":"L-4","t":258,"v":0.77},{"s":"L-4","t":260,"v":1.2},{"s":"L-4","t":262,"v":0.88},{"s":"L-4","t":264,"v":1.11},{"s":"L-4","t":266,"v":0.64},{"s":"L-4","t":268,"v":0.97},{"s":"L-4","t":270,"v":0.65},{"s":"L-4","t":272,"v":1.08},{"s":"L-4","t":274,"v":0.76},{"s":"L-4","t":276,"v":0.99},{"s":"L-4","t":278,"v":0.52},{"s":"L-4","t":280,"v":0.85},{"s":"L-4","t":282,"v":0.58},{"s":"L-4","t":284,"v":1.07},{"s":"L-4","t":286,"v":0.8},{"s":"L-4","t":288,"v":1.13},{"s":"L-4","t":290,"v":0.77},{"s":"L-4","t":292,"v":1.2},{"s":"L-4","t":294,"v":0.88},{"s":"L-4","t":296,"v":1.3},{"s":"L-4","t":298,"v":0.95},{"s":"L-4","t":300,"v":1.15},{"s":"L-4","t":302,"v":0.7},{"s":"L-4","t":304,"v":1.05},{"s":"L-4","t":306,"v":0.75},{"s":"L-4","t":308,"v":1.2},{"s":"L-4","t":310,"v":0.9},{"s":"L-4","t":312,"v":1.15},{"s":"L-4","t":314,"v":0.7},{"s":"L-4","t":316,"v":1.05},{"s":"L-4","t":318,"v":0.75},{"s":"L-4","t":320,"v":1.2},{"s":"L-4","t":322,"v":0.9},{"s":"L-4","t":324,"v":1.15},{"s":"L-4","t":326,"v":0.7},{"s":"L-4","t":328,"v":1.05},{"s":"L-4","t":330,"v":0.75},{"s":"L-4","t":332,"v":1.23},{"s":"L-4","t":334,"v":0.96},{"s":"L-4","t":336,"v":1.24},{"s":"L-4","t":338,"v":0.82},{"s":"L-4","t":340,"v":1.2},{"s":"L-4","t":342,"v":1.0},{"s":"L-4","t":344,"v":1.55},{"s":"L-4","t":346,"v":1.35},{"s":"L-4","t":348,"v":1.8},{"s":"L-4","t":350,"v":1.55},{"s":"L-4","t":352,"v":2.1},{"s":"L-4","t":354,"v":2.0},{"s":"L-4","t":356,"v":2.25},{"s":"L-4","t":358,"v":1.75},{"s":"L-4","t":360,"v":1.87},{"s":"L-4","t":362,"v":1.28},{"s":"L-4","t":364,"v":1.5},{"s":"L-4","t":366,"v":1.2},{"s":"L-4","t":368,"v":1.65},{"s":"L-4","t":370,"v":1.52},{"s":"L-4","t":372,"v":1.93},{"s":"L-4","t":374,"v":1.65},{"s":"L-4","t":376,"v":2.2},{"s":"L-4","t":378,"v":2.1},{"s":"L-4","t":380,"v":2.4},{"s":"L-4","t":382,"v":1.95},{"s":"L-4","t":384,"v":2.25},{"s":"L-4","t":386,"v":1.85},{"s":"L-4","t":388,"v":2.4},{"s":"L-4","t":390,"v":2.3},{"s":"L-4","t":392,"v":2.95},{"s":"L-4","t":394,"v":2.85},{"s":"L-4","t":396,"v":3.3},{"s":"L-4","t":398,"v":3.05},{"s":"L-4","t":400,"v":3.5},{"s":"L-4","t":402,"v":3.0},{"s":"L-4","t":404,"v":3.25},{"s":"L-4","t":406,"v":2.65},{"s":"L-4","t":408,"v":2.6},{"s":"L-4","t":410,"v":1.9},{"s":"L-4","t":412,"v":2.0},{"s":"L-4","t":414,"v":1.55},{"s":"L-4","t":416,"v":1.85},{"s":"L-4","t":418,"v":1.4},{"s":"L-4","t":420,"v":1.57},{"s":"L-4","t":422,"v":1.03},{"s":"L-4","t":424,"v":1.3},{"s":"L-4","t":426,"v":0.93},{"s":"L-4","t":428,"v":1.32},{"s":"L-4","t":430,"v":0.95},{"s":"L-4","t":432,"v":1.15},{"s":"L-4","t":434,"v":0.65},{"s":"L-4","t":436,"v":0.95},{"s":"L-4","t":438,"v":0.6},{"s":"L-4","t":440,"v":1.0},{"s":"L-4","t":442,"v":0.67},{"s":"L-4","t":444,"v":0.89},{"s":"L-4","t":446,"v":0.41},{"s":"L-4","t":448,"v":0.73},{"s":"L-4","t":450,"v":0.4},{"s":"L-4","t":452,"v":0.83},{"s":"L-4","t":454,"v":0.51},{"s":"L-4","t":456,"v":0.74},{"s":"L-4","t":458,"v":0.27},{"s":"L-4","t":460,"v":0.6},{"s":"L-4","t":464,"v":0.38},{"s":"L-4","t":468,"v":0.62},{"s":"L-4","t":472,"v":0.35},{"s":"L-4","t":476,"v":0.58},{"s":"L-4","t":480,"v":0.3},{"s":"L-4","t":484,"v":0.5},{"s":"L-4","t":488,"v":0.29},{"s":"L-4","t":492,"v":0.48},{"s":"L-4","t":496,"v":0.37},{"s":"L-4","t":500,"v":0.4}
      ]},
      "mark": {"type": "point", "filled": false, "strokeWidth": 2.1, "opacity": 1, "size": 48},
      "encoding": {
        "x": {"field": "t", "type": "quantitative", "scale": {"domain": [0, 550], "nice": false}, "axis": {"values": [0, 50, 100, 150, 200, 250, 300, 350, 400, 450, 500, 550], "grid": false, "labelPadding": 11, "title": "Time(day)", "titlePadding": 8}},
        "y": {"field": "v", "type": "quantitative", "scale": {"domain": [0, 20], "nice": false}, "axis": {"values": [0, 4, 8, 12, 16, 20], "grid": true, "gridDash": [2, 12], "gridColor": "#777777", "gridWidth": 1, "labelPadding": 8, "title": ["Gas production rate", "(L/day)"], "titlePadding": 6, "titleLineHeight": 14}},
        "color": {"field": "s", "type": "nominal", "scale": {"domain": ["L-1", "L-2", "L-3", "L-4"], "range": ["black", "black", "black", "black"]}, "legend": {"title": null, "orient": "none", "legendX": 267, "legendY": 13, "columns": 2, "direction": "horizontal", "padding": 0, "columnPadding": 35, "rowPadding": 10, "symbolSize": 50, "symbolStrokeWidth": 2, "labelFont": "DejaVu Sans", "labelFontSize": 12, "labelColor": "black", "labelOffset": 4, "labelExpr": "replace(datum.label, '-', ' - ')"}},
        "shape": {"field": "s", "type": "nominal", "scale": {"domain": ["L-1", "L-2", "L-3", "L-4"], "range": ["square", "diamond", "triangle-up", "circle"]}, "legend": {"title": null, "orient": "none", "legendX": 267, "legendY": 13, "columns": 2, "direction": "horizontal", "padding": 0, "columnPadding": 35, "rowPadding": 10, "symbolSize": 50, "symbolStrokeWidth": 2, "labelFont": "DejaVu Sans", "labelFontSize": 12, "labelColor": "black", "labelOffset": 4, "labelExpr": "replace(datum.label, '-', ' - ')"}}
      }
    },
    {
      "data": {"values": [{"t": 68, "top": 16.9, "head": 14.3}, {"t": 174, "top": 9.6, "head": 7.2}]},
      "mark": {"type": "rule", "stroke": "black", "strokeWidth": 3},
      "encoding": {"x": {"field": "t", "type": "quantitative"}, "y": {"field": "top", "type": "quantitative"}, "y2": {"field": "head"}}
    },
    {
      "data": {"values": [{"t": 68, "head": 14.26}, {"t": 174, "head": 7.16}]},
      "mark": {"type": "point", "shape": "M -1 -1.2 L 0 1.2 L 1 -1.2 L 0 -0.55 Z", "filled": true, "fill": "black", "fillOpacity": 1, "opacity": 1, "strokeWidth": 0, "size": 324},
      "encoding": {"x": {"field": "t", "type": "quantitative"}, "y": {"field": "head", "type": "quantitative"}}
    },
    {
      "data": {"values": [{"t": 306, "v": 12.45, "label": "↓\u00a0\u00a0:\u00a0\u00a0begining\u00a0\u00a0time of"}, {"t": 306, "v": 10.75, "label": "stabilization\u00a0 phase"}]},
      "mark": {"type": "text", "font": "Liberation Serif", "fontSize": 23, "align": "left", "baseline": "middle", "color": "black"},
      "encoding": {"x": {"field": "t", "type": "quantitative"}, "y": {"field": "v", "type": "quantitative"}, "text": {"field": "label"}}
    }
  ]
}
